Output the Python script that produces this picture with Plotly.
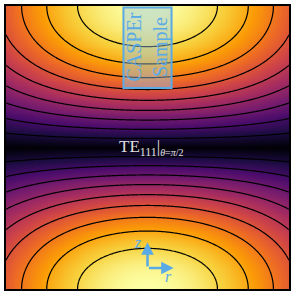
import numpy as np
import plotly.graph_objects as go

# TE111 mode: |B| in the theta = pi/2 plane, r/R across, z/d vertical
X11 = 1.8412  # first zero of J1'
N_R = 301
N_Z = 301
r_vals = np.linspace(-1, 1, N_R)
z_vals = np.linspace(0, 1, N_Z)
level_step = 0.1


def j1(x):
    x = np.asarray(x, dtype=float)
    term = x / 2.0
    s = term.copy()
    for k in range(1, 25):
        term = term * (-(x / 2.0) ** 2) / (k * (k + 1))
        s = s + term
    return s


kr = X11 * np.abs(r_vals)
safe = np.where(kr > 1e-9, kr, 1.0)
radial = np.where(kr > 1e-9, j1(safe) / safe, 0.5)
axial = np.abs(np.cos(np.pi * z_vals))
field = np.outer(axial, radial)
field = field / field.max()

fig = go.Figure()
fig.add_trace(go.Contour(
    x=r_vals, y=z_vals, z=field,
    colorscale="Inferno", zmin=0, zmax=1,
    contours=dict(coloring="heatmap", start=level_step, end=0.95, size=level_step),
    line=dict(color="black", width=1.2),
    showscale=False, hoverinfo="skip",
))

blue = "#5aaae6"
fig.add_shape(type="rect", x0=-0.17, x1=0.17, y0=0.71, y1=0.995,
              line=dict(color=blue, width=2), fillcolor="rgba(150,200,235,0.45)")
fig.add_annotation(x=0, y=0.855, text="CASPEr<br>Sample", textangle=-90, showarrow=False,
                   font=dict(family="Liberation Serif", size=20, color=blue))
fig.add_annotation(x=0.03, y=0.5,
                   text="TE<sub>111</sub>|<sub><span style='font-size:10px'><i>θ</i>=<i>π</i>/2</span></sub>",
                   showarrow=False, font=dict(family="Liberation Serif", size=17, color="#e0e0e0"))
# coordinate arrows
fig.add_annotation(x=0.0, y=0.165, ax=0.0, ay=0.074, xref="x", yref="y", axref="x", ayref="y",
                   showarrow=True, arrowhead=2, arrowsize=1, arrowwidth=2.5, arrowcolor=blue, text="")
fig.add_annotation(x=0.185, y=0.074, ax=0.0, ay=0.074, xref="x", yref="y", axref="x", ayref="y",
                   showarrow=True, arrowhead=2, arrowsize=1, arrowwidth=2.5, arrowcolor=blue, text="")
fig.add_annotation(x=-0.067, y=0.165, text="<i>z</i>", showarrow=False,
                   font=dict(family="Liberation Serif", size=16, color=blue))
fig.add_annotation(x=0.15, y=0.045, text="<i>r</i>", showarrow=False,
                   font=dict(family="Liberation Serif", size=16, color=blue))

fig.update_xaxes(range=[-1, 1], showticklabels=False, ticks="", showgrid=False, zeroline=False,
                 showline=True, linecolor="black", linewidth=1.5, mirror=True)
fig.update_yaxes(range=[0, 1], showticklabels=False, ticks="", showgrid=False, zeroline=False,
                 showline=True, linecolor="black", linewidth=1.5, mirror=True)
fig.update_layout(width=295, height=295, margin=dict(l=6, r=6, t=6, b=6, autoexpand=False),
                  paper_bgcolor="white", plot_bgcolor="white", showlegend=False)
fig.write_html("out.html", config={"displayModeBar": False},
               post_script="document.body.style.margin='0';document.body.style.overflow='hidden';")
